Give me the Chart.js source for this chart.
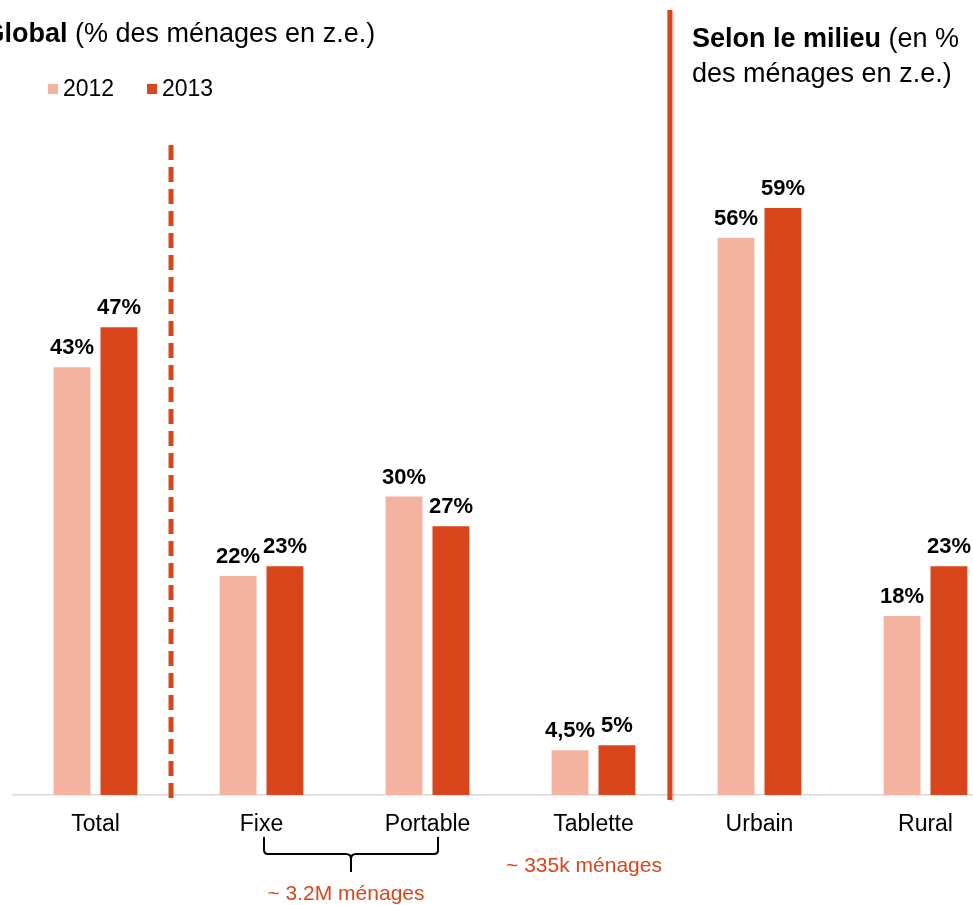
<!DOCTYPE html>
<html>
<head>
<meta charset="utf-8">
<script src="https://cdn.jsdelivr.net/npm/chart.js@4"></script>
<style>
  html, body { margin: 0; padding: 0; background: #fff; overflow: hidden; }
  #wrap { position: absolute; left: 0; top: 0; width: 1020px; height: 905px; }
</style>
</head>
<body>
<div id="wrap"><canvas id="chart"></canvas></div>
<script>
const categories = ['Total', 'Fixe', 'Portable', 'Tablette', 'Urbain', 'Rural'];
const values2012 = [43, 22, 30, 4.5, 56, 18];
const values2013 = [47, 23, 27, 5, 59, 23];
const seriesNames = ['2012', '2013'];

const light = '#F4B3A0';
const dark = '#D9461B';
const font = '"Liberation Sans", Arial, sans-serif';

const fmt = v => String(v).replace('.', ',') + '%';

const decor = {
  id: 'decor',
  afterDatasetsDraw(chart) {
    const ctx = chart.ctx;
    const x = chart.scales.x;
    ctx.save();

    // value labels
    ctx.fillStyle = '#000';
    ctx.font = 'bold 22px ' + font;
    ctx.textAlign = 'center';
    ctx.textBaseline = 'alphabetic';
    chart.data.datasets.forEach((ds, i) => {
      chart.getDatasetMeta(i).data.forEach((bar, j) => {
        ctx.fillText(fmt(ds.data[j]), bar.x, bar.y - 13);
      });
    });

    // dashed separator after Total
    const xd = x.getPixelForValue(0.455);
    ctx.strokeStyle = dark;
    ctx.lineWidth = 5;
    ctx.setLineDash([15, 7]);
    ctx.beginPath();
    ctx.moveTo(xd, 145);
    ctx.lineTo(xd, 800);
    ctx.stroke();
    ctx.setLineDash([]);

    // solid separator before Urbain
    const xs = x.getPixelForValue(3.46);
    ctx.strokeStyle = 'rgba(0,0,0,0.12)';
    ctx.lineWidth = 3;
    ctx.beginPath();
    ctx.moveTo(xs + 3, 12);
    ctx.lineTo(xs + 3, 802);
    ctx.stroke();
    ctx.strokeStyle = dark;
    ctx.lineWidth = 5;
    ctx.beginPath();
    ctx.moveTo(xs, 10);
    ctx.lineTo(xs, 800);
    ctx.stroke();

    // titles
    ctx.textAlign = 'left';
    ctx.fillStyle = '#000';
    ctx.font = '27px ' + font;
    const sp = ctx.measureText(' ').width;
    ctx.fillText('(% des ménages en z.e.)', 75, 42);
    ctx.font = 'bold 27px ' + font;
    ctx.textAlign = 'right';
    ctx.fillText('Global', 75 - sp, 42);

    ctx.textAlign = 'left';
    ctx.font = 'bold 27px ' + font;
    const boldTxt = 'Selon le milieu';
    ctx.fillText(boldTxt, 692, 47);
    const bw = ctx.measureText(boldTxt).width;
    ctx.font = '27px ' + font;
    ctx.fillText(' (en %', 692 + bw, 47);
    ctx.fillText('des ménages en z.e.)', 692, 82);

    // legend
    ctx.font = '23px ' + font;
    ctx.fillStyle = light;
    ctx.fillRect(48, 84, 10, 10);
    ctx.fillStyle = dark;
    ctx.fillRect(147, 84, 10, 10);
    ctx.fillStyle = '#000';
    ctx.fillText(seriesNames[0], 63, 96);
    ctx.fillText(seriesNames[1], 162, 96);

    // brace under Fixe / Portable
    ctx.strokeStyle = '#000';
    ctx.lineWidth = 2;
    ctx.beginPath();
    ctx.moveTo(264, 837);
    ctx.lineTo(264, 850);
    ctx.quadraticCurveTo(264, 854, 268, 854);
    ctx.lineTo(346, 854);
    ctx.quadraticCurveTo(351, 854, 351, 859);
    ctx.lineTo(351, 872);
    ctx.moveTo(438, 837);
    ctx.lineTo(438, 850);
    ctx.quadraticCurveTo(438, 854, 434, 854);
    ctx.lineTo(356, 854);
    ctx.quadraticCurveTo(351, 854, 351, 859);
    ctx.stroke();

    // annotations
    ctx.fillStyle = dark;
    ctx.font = '21px ' + font;
    ctx.textAlign = 'center';
    ctx.fillText('~ 3.2M ménages', 346, 900);
    ctx.fillText('~ 335k ménages', 584, 872);

    ctx.restore();
  }
};

new Chart(document.getElementById('chart'), {
  type: 'bar',
  data: {
    labels: categories,
    datasets: [
      { label: seriesNames[0], data: values2012, backgroundColor: light },
      { label: seriesNames[1], data: values2013, backgroundColor: dark }
    ]
  },
  options: {
    responsive: true,
    maintainAspectRatio: false,
    animation: false,
    events: [],
    categoryPercentage: 0.565,
    barPercentage: 0.787,
    layout: { padding: { left: 12.5, right: 11.5, top: 198, bottom: 0 } },
    plugins: {
      legend: { display: false },
      tooltip: { enabled: false }
    },
    scales: {
      x: {
        grid: { display: false, drawTicks: false },
        border: { color: '#d9d9d9', width: 1.5 },
        ticks: { color: '#000', font: { family: font, size: 23 }, padding: 16, maxRotation: 0 },
        afterFit: s => { s.height = 110; }
      },
      y: {
        display: false,
        min: 0,
        max: 60
      }
    }
  },
  plugins: [decor]
});
</script>
</body>
</html>
